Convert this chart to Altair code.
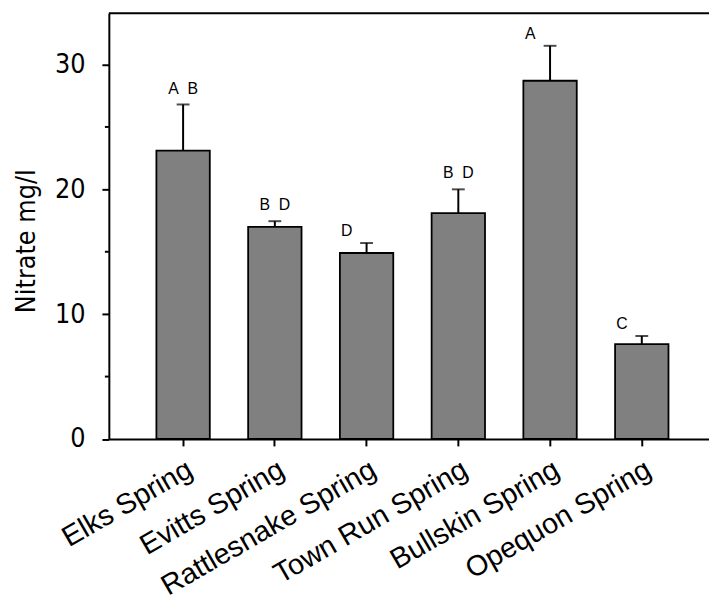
import altair as alt
import pandas as pd

sites = ["Elks Spring", "Evitts Spring", "Rattlesnake Spring",
         "Town Run Spring", "Bullskin Spring", "Opequon Spring"]
means = [23.1, 17.0, 14.9, 18.1, 28.7, 7.6]
errs = [3.7, 0.45, 0.8, 1.9, 2.8, 0.65]
letters = ["A\u00a0\u00a0B", "B\u00a0\u00a0D", "D", "B\u00a0\u00a0D", "A", "C"]
y_ticks = [0, 10, 20, 30]
y_minor = [5, 15, 25]

df = pd.DataFrame({"site": sites, "mean": means, "err": errs, "letter": letters})
df["top"] = df["mean"] + df["err"]
df["single"] = df["letter"].str.len() == 1
minor_df = pd.DataFrame({"v": y_minor})

W = 607
H = 430.5
YMAX = 34.1
NARROW = "Liberation Sans Narrow, DejaVu Sans Condensed, Roboto Condensed, Liberation Sans"

xscale = alt.Scale(paddingInner=0.418, paddingOuter=0.48, align=0.54)
yscale = alt.Scale(domain=[0, YMAX], nice=False, zero=True)

x_enc = alt.X("site:N", sort=sites, scale=xscale, title=None,
              axis=alt.Axis(labelAngle=-30, labelAlign="right", labelBaseline="top",
                            labelFont="Liberation Sans", labelFontSize=29,
                            labelColor="black", labelPadding=9, labelLimit=0,
                            tickSize=7, tickWidth=2, tickColor="black",
                            domainWidth=2, domainColor="black", grid=False))

y_axis = alt.Axis(values=y_ticks, tickSize=7, tickWidth=2, tickColor="black",
                  domainWidth=2, domainColor="black", grid=False,
                  labelFont=NARROW, labelFontSize=27,
                  labelColor="black", labelPadding=17,
                  title="Nitrate mg/l", titleFont=NARROW,
                  titleFontSize=27, titleFontWeight="normal", titleColor="black",
                  titleAngle=-90, titleBaseline="alphabetic", titleAlign="center",
                  titleX=-75, titleY=230)

base = alt.Chart(df).encode(x=x_enc)

bars = base.mark_bar(color="#808080", stroke="black", strokeWidth=1.8).encode(
    y=alt.Y("mean:Q", scale=yscale, axis=y_axis))

err_line = base.mark_rule(color="black", strokeWidth=2).encode(
    y=alt.Y("mean:Q", scale=yscale), y2="top:Q")

caps = base.mark_tick(color="black", thickness=2, size=13).encode(
    y=alt.Y("top:Q", scale=yscale))

txt_pair = base.transform_filter("!datum.single").mark_text(
    font="Liberation Sans", fontSize=16, color="black", baseline="alphabetic",
    align="center", dy=-11).encode(y=alt.Y("top:Q", scale=yscale), text="letter:N")

txt_single = base.transform_filter("datum.single").mark_text(
    font="Liberation Sans", fontSize=16, color="black", baseline="alphabetic",
    align="center", dx=-20, dy=-7).encode(y=alt.Y("top:Q", scale=yscale), text="letter:N")

minor = alt.Chart(minor_df).mark_rule(color="black", strokeWidth=2).encode(
    y=alt.Y("v:Q", scale=yscale), x=alt.value(-4), x2=alt.value(0))

top_line = alt.Chart(minor_df.head(1)).mark_rule(color="black", strokeWidth=2).encode(
    x=alt.value(0), x2=alt.value(W), y=alt.value(0))

chart = alt.layer(bars, err_line, caps, txt_pair, txt_single, minor, top_line).properties(
    width=W, height=H,
    autosize=alt.AutoSizeParams(type="none"),
    padding={"left": 102, "top": 2, "right": 0, "bottom": 165},
).configure_view(stroke=None)

chart.save("out.html", embed_options={"renderer": "svg", "actions": False})
